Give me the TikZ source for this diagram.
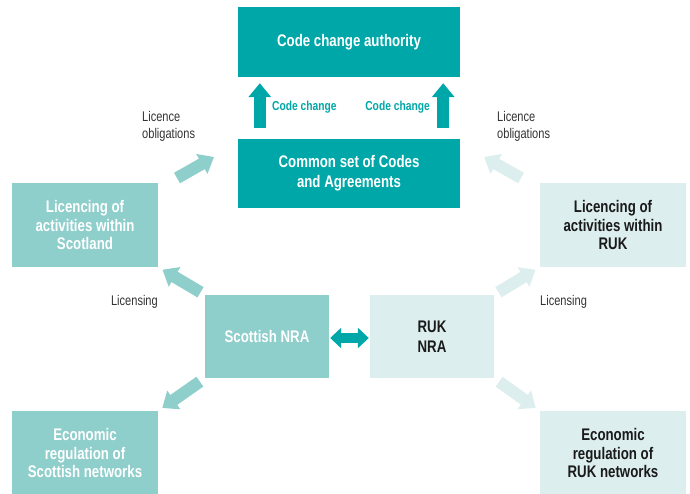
\documentclass[tikz,border=0pt]{standalone}
\usepackage{fontspec}
\setmainfont{Liberation Sans}[FakeStretch=0.79]
\usetikzlibrary{arrows.meta}
\definecolor{codeteal}{HTML}{00A7A8}
\definecolor{scotteal}{HTML}{8ECECB}
\definecolor{ruklight}{HTML}{DDEEEE}
\definecolor{inktext}{HTML}{1A1A1A}
\definecolor{labelgrey}{HTML}{333333}
\tikzset{
  box/.style={rectangle, inner sep=0pt, align=center,
    font=\fontsize{16.8}{18.5}\selectfont\bfseries},
  darkbox/.style={box, fill=codeteal, text=white},
  scotbox/.style={box, fill=scotteal, text=white},
  rukbox/.style={box, fill=ruklight, text=inktext},
  bigarrow/.style={line width=12pt, -{Triangle[width=22pt,length=14pt]}},
  note/.style={inner sep=0pt, align=left, text=labelgrey,
    font=\fontsize{14}{17}\selectfont},
}

\begin{document}
\begin{tikzpicture}[x=1pt,y=-1pt]
  \clip (0,0) rectangle (690,494);
  \fill[white] (0,0) rectangle (690,494);

  \node[darkbox, minimum width=222pt, minimum height=70pt] (cca) at (349,42) {Code change authority};
  \node[darkbox, minimum width=222pt, minimum height=69pt, font=\fontsize{16.8}{20}\selectfont\bfseries] (codes) at (349,173.5) {Common set of Codes\\and Agreements};

  \node[scotbox, minimum width=146pt, minimum height=84pt] (scotlic) at (85,225) {Licencing of\\activities within\\Scotland};
  \node[rukbox, minimum width=146pt, minimum height=84pt] (ruklic) at (613,225) {Licencing of\\activities within\\RUK};
  \node[scotbox, minimum width=124pt, minimum height=83pt] (scotnra) at (267,336.5) {Scottish NRA};
  \node[rukbox, minimum width=124pt, minimum height=83pt, font=\fontsize{16.8}{20}\selectfont\bfseries] (ruknra) at (432,336.5) {RUK\\NRA};
  \node[scotbox, minimum width=146pt, minimum height=84pt] (scoteco) at (85,453) {Economic\\regulation of\\Scottish networks};
  \node[rukbox, minimum width=146pt, minimum height=84pt] (rukeco) at (613,453) {Economic\\regulation of\\RUK networks};

  \draw[bigarrow, codeteal, shorten <=11pt, shorten >=6pt] ([xshift=22pt]codes.north west) -- ([xshift=22pt]cca.south west);
  \draw[bigarrow, codeteal, shorten <=11pt, shorten >=6pt] ([xshift=-17pt]codes.north east) -- ([xshift=-17pt]cca.south east);
  \node[note, anchor=west, text=codeteal, font=\fontsize{13}{15}\selectfont\bfseries] (ccleft) at (272,107) {Code change};
  \node[note, anchor=east, text=codeteal, font=\fontsize{13}{15}\selectfont\bfseries] (ccright) at (430,107) {Code change};

  \draw[line width=10pt, codeteal, {Triangle[width=20pt,length=11pt]}-{Triangle[width=20pt,length=11pt]},
    shorten <=1pt, shorten >=1pt] ([yshift=-1.5pt]scotnra.east) -- ([yshift=-1.5pt]ruknra.west);

  \coordinate (oblL) at (177,178);
  \coordinate (oblLtip) at (214,157);
  \coordinate (oblR) at (521,178);
  \coordinate (oblRtip) at (484,157);
  \draw[bigarrow, scotteal] (oblL) -- (oblLtip);
  \draw[bigarrow, ruklight] (oblR) -- (oblRtip);

  \draw[bigarrow, scotteal, shorten <=5pt, shorten >=5pt] (scotnra.north west) -- (scotlic.south east);
  \draw[bigarrow, scotteal, shorten <=6pt, shorten >=5pt] (scotnra.south west) -- (scoteco.north east);
  \draw[bigarrow, ruklight, shorten <=5pt, shorten >=5pt] (ruknra.north east) -- (ruklic.south west);
  \draw[bigarrow, ruklight, shorten <=6pt, shorten >=5pt] (ruknra.south east) -- (rukeco.north west);

  \node[note, anchor=west] (oblleft) at (142,126.5) {Licence\\obligations};
  \node[note, anchor=west] (oblright) at (497,126.5) {Licence\\obligations};
  \node[note, anchor=east] (licleft) at (158,302) {Licensing};
  \node[note, anchor=west] (licright) at (540,302) {Licensing};
\end{tikzpicture}
\end{document}
